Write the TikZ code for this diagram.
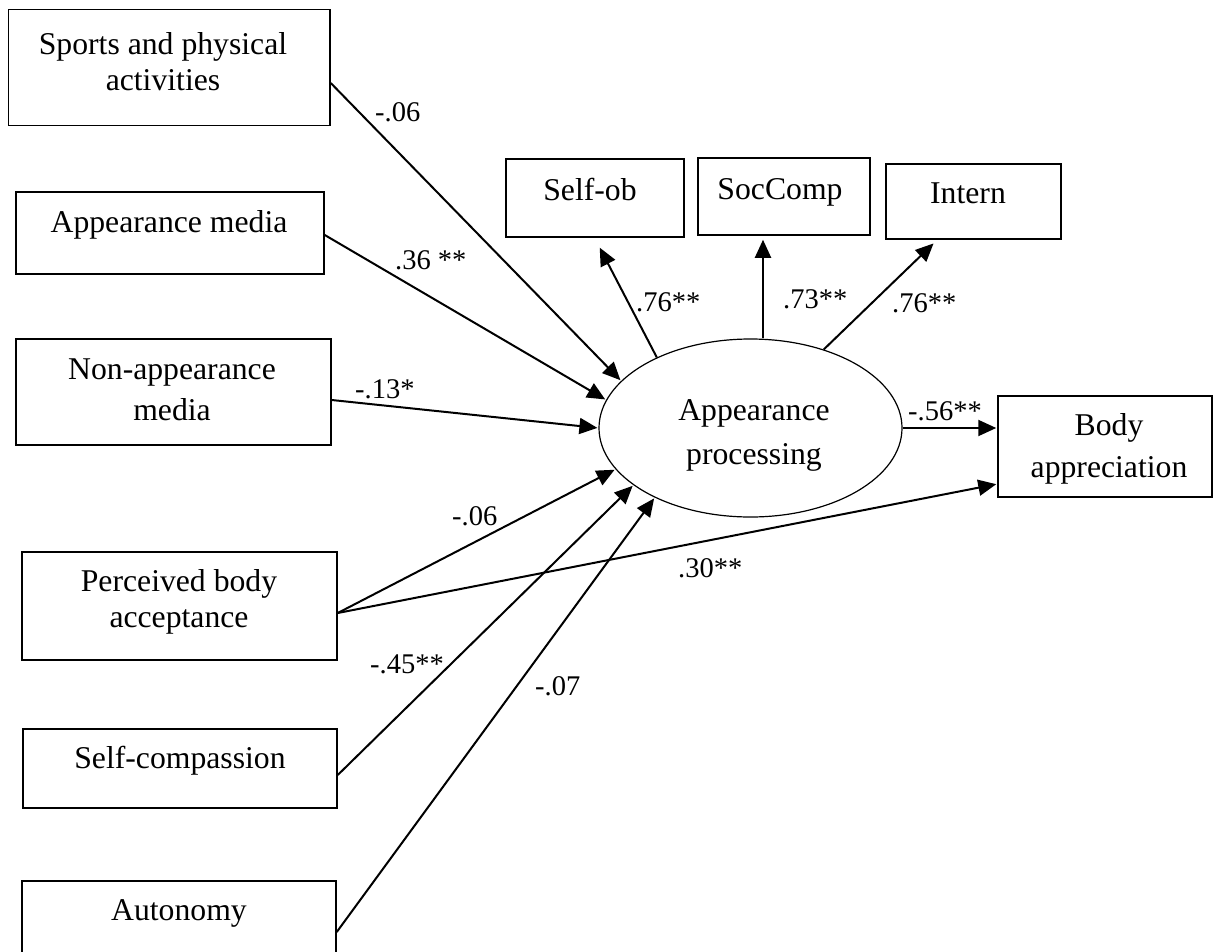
\documentclass[tikz,border=0pt]{standalone}
\usepackage{fontspec}
\setmainfont{Liberation Serif}
\usetikzlibrary{arrows.meta,shapes.geometric,calc}
\tikzset{
  box/.style={draw, line width=1.5pt, rectangle, inner sep=0pt},
  latent/.style={draw, line width=1.2pt, ellipse, inner sep=0pt, minimum width=303pt, minimum height=178pt},
  txt/.style={inner sep=0pt, anchor=base, font=\fontsize{31.7}{38}\selectfont},
  lab/.style={inner sep=0pt, anchor=base west, font=\fontsize{28.5}{34}\selectfont},
  arr/.style={line width=2pt, -{Triangle[length=18pt,width=16pt]}, shorten >=1pt},
}
\begin{document}
\begin{tikzpicture}[x=1pt,y=-1pt]
\useasboundingbox (0,0) rectangle (1216,951);
\clip (0,0) rectangle (1216,951);
% boxes
\node[box, minimum width=321.5pt, minimum height=116pt] (sp) at (169.25,67.5) {};
\node[box, minimum width=308pt, minimum height=82pt] (am) at (170,233) {};
\node[box, minimum width=315pt, minimum height=106pt] (na) at (173.5,392) {};
\node[box, minimum width=315pt, minimum height=108pt] (pb) at (179.5,606) {};
\node[box, minimum width=314pt, minimum height=79pt] (sc) at (180,768.5) {};
\node[box, minimum width=314pt, minimum height=79pt] (au) at (179,920.5) {};
\node[box, minimum width=178pt, minimum height=78pt] (so) at (595,198) {};
\node[box, minimum width=172pt, minimum height=77pt] (scp) at (784,196.5) {};
\node[box, minimum width=175pt, minimum height=75pt] (int) at (973.5,201.5) {};
\node[box, minimum width=214pt, minimum height=101pt] (ba) at (1105,446.5) {};
\node[latent] (ell) at (750.5,428) {};
% texts
\node[txt] (spT1) at (163,54) {Sports and physical};
\node[txt] (spT2) at (163,90) {activities};
\node[txt] (amT) at (169,232) {Appearance media};
\node[txt] (naT1) at (172,379) {Non-appearance};
\node[txt] (naT2) at (172,420) {media};
\node[txt] (pbT1) at (179,591) {Perceived body};
\node[txt] (pbT2) at (179,627) {acceptance};
\node[txt] (scT) at (180,768) {Self-compassion};
\node[txt] (auT) at (179,920) {Autonomy};
\node[txt] (soT) at (590,200) {Self-ob};
\node[txt] (scpT) at (780,199) {SocComp};
\node[txt] (intT) at (968,203) {Intern};
\node[txt] (ellT1) at (754,420) {Appearance};
\node[txt] (ellT2) at (754,464) {processing};
\node[txt] (baT1) at (1109,435) {Body};
\node[txt] (baT2) at (1109,477) {appreciation};
% connectors
\draw[arr] ([yshift=-15.5pt]sp.east) -- (ell.160);
\draw[arr] ([yshift=-2pt]am.east) -- (ell.169.3);
\draw[arr] ([yshift=-8pt]na.east) -- (ell.180.8);
\draw[arr] ([yshift=-7pt]pb.east) -- (ell.197.4);
\draw[arr] ([yshift=-7pt]pb.east) -- ([yshift=-37.5pt]ba.west);
\draw[arr] ([yshift=-6.5pt]sc.east) -- (ell.206.9);
\draw[arr] ([yshift=-11.5pt]au.east) -- (ell.216.9);
\draw[arr] (ell.143.5) -- ([xshift=94pt,yshift=-9pt]so.south west);
\draw[arr] ([xshift=12.5pt]ell.north) -- ([xshift=12.5pt,yshift=-3pt]ell.north |- scp.south);
\draw[arr] (ell.47) -- ([xshift=49pt,yshift=-3pt]int.south west);
\draw[arr] (ell.east) -- (ell.east -| ba.west);
% coefficient labels
\node[lab] (l1) at (375,121) {-.06};
\node[lab] (l2) at (395,269) {.36 **};
\node[lab] (l3) at (355,398) {-.13*};
\node[lab] (l4) at (636,311) {.76**};
\node[lab] (l5) at (783,308) {.73**};
\node[lab] (l6) at (892,312) {.76**};
\node[lab] (l7) at (908,420) {-.56**};
\node[lab] (l8) at (452,525) {-.06};
\node[lab] (l9) at (678,577) {.30**};
\node[lab] (l10) at (370,673) {-.45**};
\node[lab] (l11) at (535,695) {-.07};
\end{tikzpicture}
\end{document}
